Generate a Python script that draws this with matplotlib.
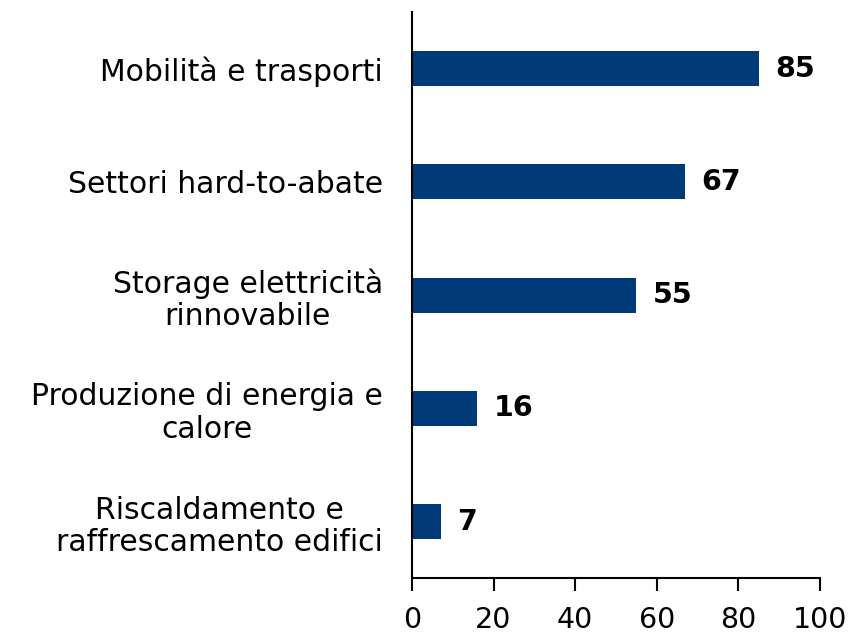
import matplotlib
matplotlib.use("Agg")
import matplotlib.pyplot as plt

categories = [
    "Mobilità e trasporti",
    "Settori hard-to-abate",
    "Storage elettricità\nrinnovabile",
    "Produzione di energia e\ncalore",
    "Riscaldamento e\nraffrescamento edifici",
]
values = [85, 67, 55, 16, 7]
ticks = [0, 20, 40, 60, 80, 100]

bar_color = "#003a78"

fig = plt.figure(figsize=(8.53, 6.34), dpi=100)
ax = fig.add_axes([0.483, 0.088, 0.478, 0.893])

pos = list(range(len(categories)))[::-1]
ax.barh(pos, values, height=0.31, color=bar_color)

for p, v in zip(pos, values):
    ax.text(v + 4, p, str(v), va="center", ha="left",
            fontsize=20.5, fontweight="bold", color="black")

ax.set_yticks(pos)
ax.set_yticklabels(categories, fontsize=21.5, ha="right",
                   multialignment="center", linespacing=1.15)
ax.tick_params(axis="y", length=0, pad=21)

ax.set_xlim(0, 100)
ax.set_ylim(-0.5, 4.5)
ax.set_xticks(ticks)
ax.tick_params(axis="x", labelsize=20.5, length=9, width=1.5, direction="out", pad=11)

for s in ["top", "right"]:
    ax.spines[s].set_visible(False)
for s in ["left", "bottom"]:
    ax.spines[s].set_linewidth(1.5)

fig.savefig("out.png", dpi=100)
